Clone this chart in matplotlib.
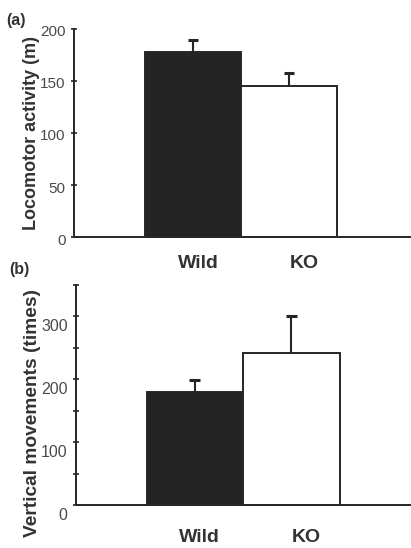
import matplotlib
matplotlib.use("Agg")
import matplotlib.pyplot as plt
from matplotlib.ticker import MultipleLocator
from matplotlib.transforms import ScaledTranslation

plt.rcParams['font.family'] = ['Liberation Sans', 'DejaVu Sans']

groups = ["Wild", "KO"]
loco_mean = [178, 145]
loco_err = [11, 13]
vert_mean = [180, 241]
vert_err = [19, 60]

bar_colors = ["#242424", "white"]
text_color = "#333333"
tick_color = "#4a4a4a"
line_color = "#262626"

fig = plt.figure(figsize=(4.11, 5.48), dpi=100)
fig.patch.set_facecolor("white")


def panel(rect, means, errs, ylabel, ylfs, ylab_y, ylim, major, minor, xlim, letter, letter_xy,
          tick_fs, tick_dy, xlab_dx, xlab_pad):
    ax = fig.add_axes(rect)
    x = list(range(len(groups)))
    ax.bar(x, means, width=1.0, color=bar_colors, edgecolor=line_color, linewidth=1.4, zorder=2)
    tops = [m + e for m, e in zip(means, errs)]
    ax.vlines(x, means, tops, color=line_color, linewidth=1.5, zorder=3)
    ax.hlines(tops, [xi - 0.055 for xi in x], [xi + 0.055 for xi in x],
              color=line_color, linewidth=2.2, zorder=3)
    ax.set_xlim(*xlim)
    ax.set_ylim(*ylim)
    ax.set_xticks(x)
    ax.set_xticklabels(groups, fontsize=14, fontweight="bold", color=text_color)
    ax.tick_params(axis="x", length=0, pad=xlab_pad)
    for lbl, dx in zip(ax.get_xticklabels(), xlab_dx):
        lbl.set_transform(lbl.get_transform() + ScaledTranslation(dx / 100, 0, fig.dpi_scale_trans))
    ax.yaxis.set_major_locator(MultipleLocator(major))
    ax.yaxis.set_minor_locator(MultipleLocator(minor))
    ax.tick_params(axis="y", which="both", direction="inout", length=4, width=1.2,
                   labelsize=tick_fs, labelcolor=tick_color, color=line_color, pad=4)
    for lbl in ax.get_yticklabels():
        lbl.set_transform(lbl.get_transform() + ScaledTranslation(0, -tick_dy / 100, fig.dpi_scale_trans))
    for s in ["top", "right"]:
        ax.spines[s].set_visible(False)
    for s in ["left", "bottom"]:
        ax.spines[s].set_linewidth(1.4)
        ax.spines[s].set_color(line_color)
    ax.set_ylabel(ylabel, fontsize=ylfs, fontweight="bold", color=text_color, labelpad=0)
    ax.yaxis.label.set_y(ylab_y)
    fig.text(letter_xy[0], letter_xy[1], letter, fontsize=11.5, fontweight="bold",
             color=text_color, ha="left", va="center")
    return ax


panel([0.180, 0.5675, 0.818, 0.3796], loco_mean, loco_err, "Locomotor activity (m)", 13, 0.5,
      (0, 200), 50, 50, (-1.24, 2.26), "(a)", (0.015, 0.963), 11, 2, [5, 15], 13)
panel([0.185, 0.0785, 0.815, 0.4015], vert_mean, vert_err, "Vertical movements (times)", 13.8, 0.42,
      (0, 350), 100, 50, (-1.23, 2.24), "(b)", (0.022, 0.508), 11.5, 9, [5, 15], 17)

fig.savefig("out.png", dpi=100, facecolor="white")
